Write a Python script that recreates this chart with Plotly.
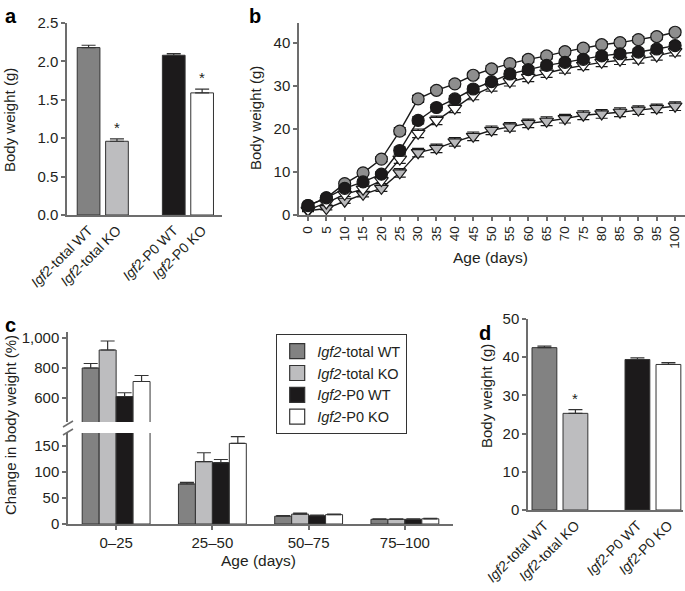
import plotly.graph_objects as go

FONT = "Liberation Sans, Arial, sans-serif"
TXT = "#231f20"
AX = "#6d6d6d"

groups = ["<i>Igf2</i>-total WT", "<i>Igf2</i>-total KO", "<i>Igf2</i>-P0 WT", "<i>Igf2</i>-P0 KO"]
bar_colors = ["#828282", "#bdbdbf", "#1c1a1b", "#ffffff"]
group_pos = [0, 1, 3, 4]

# Panel a: birth weight
a_vals = [2.18, 0.96, 2.08, 1.59]
a_err = [0.03, 0.03, 0.02, 0.05]
a_star = [False, True, False, True]

# Panel b: growth curves
ages = [0, 5, 10, 15, 20, 25, 30, 35, 40, 45, 50, 55, 60, 65, 70, 75, 80, 85, 90, 95, 100]
b_total_wt = [2.2, 4.0, 7.3, 9.8, 13.0, 19.5, 27.0, 29.0, 30.5, 32.5, 34.0, 35.2, 36.2, 37.0, 38.0, 38.8, 39.6, 40.1, 40.8, 41.5, 42.5]
b_total_ko = [1.0, 1.5, 3.2, 4.8, 6.2, 9.8, 14.5, 15.5, 17.0, 18.3, 19.7, 20.5, 21.3, 21.8, 22.4, 23.2, 23.5, 23.9, 24.4, 24.8, 25.3]
b_p0_wt = [2.2, 4.0, 6.2, 7.7, 9.5, 15.0, 22.0, 25.0, 27.0, 29.3, 31.0, 32.8, 33.8, 34.8, 35.5, 36.2, 37.0, 37.5, 37.9, 38.6, 39.4]
b_p0_ko = [1.2, 2.8, 4.8, 6.0, 8.0, 13.0, 19.0, 22.0, 24.8, 27.8, 29.8, 31.0, 32.0, 33.0, 34.0, 34.8, 35.5, 36.0, 36.3, 37.0, 38.0]
b_err_total_wt = [0.2, 0.3, 0.4, 0.5, 0.6, 0.8, 0.8, 0.7, 0.7, 0.7, 0.7, 0.7, 0.7, 0.7, 0.7, 0.7, 0.7, 0.7, 0.7, 0.7, 0.7]
b_err_total_ko = [0.2, 0.3, 0.5, 0.6, 0.7, 1.0, 1.0, 1.0, 1.0, 1.0, 1.0, 1.0, 1.0, 1.0, 1.0, 1.0, 1.0, 1.0, 1.0, 1.0, 1.0]
b_err_p0_wt = [0.2, 0.3, 0.4, 0.5, 0.6, 0.8, 0.8, 0.7, 0.7, 0.7, 0.7, 0.7, 0.7, 0.7, 0.7, 0.7, 0.7, 0.7, 0.7, 0.7, 0.7]
b_err_p0_ko = [0.2, 0.3, 0.5, 0.6, 0.7, 1.0, 1.0, 1.0, 1.0, 1.0, 1.0, 1.0, 1.0, 1.0, 1.0, 1.0, 1.0, 1.0, 1.0, 1.0, 1.0]

# Panel c: % change in body weight
periods = ["0\u201325", "25\u201350", "50\u201375", "75\u2013100"]
c_total_wt = [800, 77, 15, 9]
c_total_ko = [920, 120, 19, 9]
c_p0_wt = [610, 118, 16, 9]
c_p0_ko = [710, 155, 18, 10]
c_err_total_wt = [30, 3, 1, 1]
c_err_total_ko = [60, 17, 2, 1]
c_err_p0_wt = [25, 6, 1, 1]
c_err_p0_ko = [40, 13, 1, 1]

# Panel d: adult weight
d_vals = [42.5, 25.3, 39.4, 38.1]
d_err = [0.4, 1.0, 0.4, 0.5]
d_star = [False, True, False, False]

W, H = 685, 591
def fx(px):
    return px / W
def fy(py):
    return 1 - py / H

fig = go.Figure()

# ---------- Panel a ----------
fig.add_trace(go.Bar(
    x=group_pos, y=a_vals, width=0.8,
    marker=dict(color=bar_colors, line=dict(color="#333333", width=1)),
    error_y=dict(type="data", array=a_err, symmetric=False, arrayminus=[0]*4,
                 color="#333333", thickness=1.2, width=7),
    xaxis="x", yaxis="y", showlegend=False))

# ---------- Panel b ----------
b_series = [
    (b_total_wt, b_err_total_wt, "circle", "#8e8e8e", "Igf2-total WT"),
    (b_total_ko, b_err_total_ko, "triangle-down", "#b9b9bb", "Igf2-total KO"),
    (b_p0_ko, b_err_p0_ko, "triangle-down", "#ffffff", "Igf2-P0 KO"),
    (b_p0_wt, b_err_p0_wt, "circle", "#1c1a1b", "Igf2-P0 WT"),
]
for vals, err, sym, col, nm in b_series:
    fig.add_trace(go.Scatter(
        x=ages, y=vals, mode="lines+markers", name=nm,
        line=dict(color="#1a1a1a", width=1.4),
        marker=dict(symbol=sym, size=12, color=col, line=dict(color="#1a1a1a", width=1.2)),
        error_y=dict(type="data", array=err, color="#1a1a1a", thickness=1.2, width=6),
        xaxis="x2", yaxis="y2", showlegend=False, cliponaxis=False))

# ---------- Panel c ----------
c_data = [(c_total_wt, c_err_total_wt), (c_total_ko, c_err_total_ko),
          (c_p0_wt, c_err_p0_wt), (c_p0_ko, c_err_p0_ko)]
for i, (vals, err) in enumerate(c_data):
    for xa, ya in (("x3", "y3"), ("x4", "y4")):
        fig.add_trace(go.Bar(
            x=periods, y=vals, name=groups[i], offsetgroup=str(i),
            marker=dict(color=bar_colors[i], line=dict(color="#333333", width=1)),
            error_y=dict(type="data", array=err, symmetric=False, arrayminus=[0]*4,
                         color="#333333", thickness=1.2, width=7),
            xaxis=xa, yaxis=ya, showlegend=False))

# legend entries
for i in range(4):
    fig.add_trace(go.Scatter(
        x=[None], y=[None], mode="markers", name=groups[i],
        marker=dict(symbol="square", size=15, color=bar_colors[i], line=dict(color="#333333", width=1.2)),
        xaxis="x3", yaxis="y3", showlegend=True))

# ---------- Panel d ----------
fig.add_trace(go.Bar(
    x=group_pos, y=d_vals, width=0.8,
    marker=dict(color=bar_colors, line=dict(color="#333333", width=1)),
    error_y=dict(type="data", array=d_err, symmetric=False, arrayminus=[0]*4,
                 color="#333333", thickness=1.2, width=7),
    xaxis="x5", yaxis="y5", showlegend=False))

tickfont = dict(family=FONT, size=15, color=TXT)
catfont = dict(family=FONT, size=14, color=TXT)

def yax(domain, rng, dtick, anchor, **kw):
    d = dict(domain=domain, range=rng, dtick=dtick, anchor=anchor, automargin=False,
             showline=True, linecolor=AX, linewidth=1.5, ticks="outside",
             ticklen=4, tickwidth=1.5, tickcolor=AX, showgrid=False, zeroline=False,
             tickfont=tickfont)
    d.update(kw)
    return d

def xax(domain, rng, anchor, **kw):
    d = dict(domain=domain, range=rng, anchor=anchor, automargin=False,
             showline=True, linecolor=AX, linewidth=1.5, ticks="outside",
             ticklen=4, tickwidth=1.5, tickcolor=AX, showgrid=False, zeroline=False,
             tickfont=tickfont)
    d.update(kw)
    return d

cat_ticktext = [g for g in groups]

fig.update_layout(
    width=W, height=H,
    margin=dict(l=0, r=0, t=0, b=0, autoexpand=False),
    paper_bgcolor="white", plot_bgcolor="rgba(0,0,0,0)",
    font=dict(family=FONT, color=TXT),
    barmode="group", bargap=0.295, bargroupgap=0,
    # a
    xaxis=xax([fx(67), fx(222)], [-0.76, 4.7], "y",
              tickmode="array", tickvals=group_pos, ticktext=cat_ticktext,
              tickangle=-45, ticks="", tickfont=catfont),
    yaxis=yax([fy(215), fy(23)], [0, 2.5], 0.5, "x", tickformat=".1f"),
    # b
    xaxis2=xax([fx(299), 1.0], [-2.45, 102.7], "y2",
               tickmode="array", tickvals=ages, ticktext=[str(a) for a in ages],
               tickangle=-90, tickfont=dict(family=FONT, size=13.5, color=TXT)),
    yaxis2=yax([fy(215), fy(23)], [0, 44.65], 10, "x2"),
    # c lower
    xaxis3=xax([fx(68), fx(453)], [-0.5, 3.5], "y3"),
    yaxis3=yax([fy(524), fy(433)], [0, 175], 50, "x3"),
    # c upper
    xaxis4=dict(domain=[fx(68), fx(453)], range=[-0.5, 3.5], anchor="y4", matches="x3",
                automargin=False, showline=False, showticklabels=False, ticks="",
                showgrid=False, zeroline=False),
    yaxis4=yax([fy(422), fy(332)], [440, 1040], 200, "x4",
               tickvals=[600, 800, 1000], ticktext=["600", "800", "1,000"]),
    # d
    xaxis5=xax([fx(528), fx(683)], [-0.53, 4.47], "y5",
               tickmode="array", tickvals=group_pos, ticktext=cat_ticktext,
               tickangle=-45, ticks="", tickfont=catfont),
    yaxis5=yax([fy(510), fy(319)], [0, 50], 10, "x5"),
    legend=dict(x=fx(276), y=fy(334), xanchor="left", yanchor="top",
                bgcolor="white", bordercolor="#333333", borderwidth=1.2,
                font=dict(family=FONT, size=14.5, color=TXT),
                tracegroupgap=0, itemsizing="trace"),
)

ann = []
# panel letters
for letter, x, y in (("a", 3, 3), ("b", 247, 3), ("c", 3, 312), ("d", 477, 320)):
    ann.append(dict(text="<b>%s</b>" % letter, x=fx(x), y=fy(y), xref="paper", yref="paper",
                    xanchor="left", yanchor="top", showarrow=False,
                    font=dict(family=FONT, size=20, color="#000000")))
# axis titles
for txt, x, y in (("Body weight (g)", 10, 120), ("Body weight (g)", 255, 118),
                  ("Change in body weight (%)", 10, 425), ("Body weight (g)", 486, 396)):
    ann.append(dict(text=txt, x=fx(x), y=fy(y), xref="paper", yref="paper",
                    xanchor="center", yanchor="middle", textangle=-90, showarrow=False,
                    font=dict(family=FONT, size=15, color=TXT)))
for txt, x, y in (("Age (days)", 490, 257), ("Age (days)", 258, 560)):
    ann.append(dict(text=txt, x=fx(x), y=fy(y), xref="paper", yref="paper",
                    xanchor="center", yanchor="middle", showarrow=False,
                    font=dict(family=FONT, size=15.5, color=TXT)))
# significance stars
for i in range(4):
    if a_star[i]:
        ann.append(dict(text="*", x=group_pos[i], y=a_vals[i] + a_err[i], xref="x", yref="y",
                        yanchor="bottom", yshift=1, showarrow=False,
                        font=dict(family=FONT, size=15, color=TXT)))
    if d_star[i]:
        ann.append(dict(text="*", x=group_pos[i], y=d_vals[i] + d_err[i], xref="x5", yref="y5",
                        yanchor="bottom", yshift=1, showarrow=False,
                        font=dict(family=FONT, size=15, color=TXT)))
fig.update_layout(annotations=ann)

# axis break marks for panel c
shapes = []
for y0 in (427, 435):
    shapes.append(dict(type="line", xref="paper", yref="paper",
                       x0=fx(63), y0=fy(y0), x1=fx(73), y1=fy(y0 - 6),
                       line=dict(color=AX, width=1.5)))
fig.update_layout(shapes=shapes)

fig.write_html("out.html", config={"displayModeBar": False},
               post_script="document.body.style.margin='0px';document.body.style.overflow='hidden';")
